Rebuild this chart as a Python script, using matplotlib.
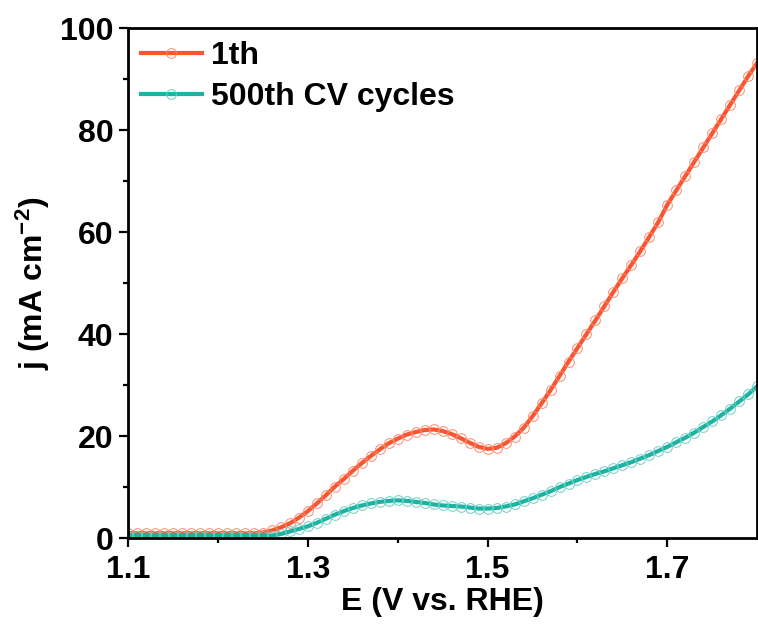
import matplotlib.pyplot as plt
import numpy as np

plt.rcParams['font.family'] = ['Liberation Sans', 'DejaVu Sans']
plt.rcParams['font.weight'] = 'bold'
plt.rcParams['mathtext.fontset'] = 'custom'
plt.rcParams['mathtext.rm'] = 'Liberation Sans:bold'
plt.rcParams['mathtext.bf'] = 'Liberation Sans:bold'
plt.rcParams['mathtext.default'] = 'bf'

# potential grid (V vs. RHE), 10 mV steps
E = np.round(np.arange(1.10, 1.805, 0.01), 2)

# current density, mA cm-2
j_1st = [1.0, 1.0, 1.0, 1.0, 1.0, 1.0, 1.0, 1.0, 1.0, 1.0,
         1.0, 1.0, 1.0, 1.0, 1.0, 1.1, 1.5, 2.1, 2.9, 4.0,
         5.3, 6.8, 8.4, 10.1, 11.6, 13.2, 14.7, 16.1, 17.4, 18.6,
         19.5, 20.3, 20.8, 21.2, 21.3, 21.0, 20.4, 19.6, 18.7, 17.9,
         17.5, 17.7, 18.6, 19.9, 21.6, 23.9, 26.4, 29.0, 31.8, 34.6,
         37.3, 40.0, 42.7, 45.5, 48.3, 51.0, 53.6, 56.3, 59.1, 62.0,
         65.4, 68.2, 71.0, 73.8, 76.6, 79.4, 82.2, 85.0, 87.8, 90.6,
         93.2]
j_500th = [0.5, 0.5, 0.5, 0.5, 0.5, 0.5, 0.5, 0.5, 0.5, 0.5,
           0.5, 0.5, 0.5, 0.5, 0.5, 0.5, 0.5, 0.8, 1.3, 1.8,
           2.3, 3.0, 3.8, 4.6, 5.3, 5.9, 6.4, 6.8, 7.1, 7.3,
           7.4, 7.3, 7.1, 6.9, 6.6, 6.4, 6.3, 6.2, 6.0, 5.8,
           5.8, 5.9, 6.2, 6.6, 7.2, 7.8, 8.5, 9.2, 10.0, 10.7,
           11.4, 12.0, 12.6, 13.1, 13.7, 14.3, 14.9, 15.6, 16.3, 17.1,
           17.9, 18.8, 19.7, 20.7, 21.8, 22.9, 24.1, 25.4, 26.8, 28.2,
           29.8]

labels = ['1th', '500th CV cycles']
colors = ['#FA5530', '#1DB3A3']
ring_colors = ['#FB8A70', '#6CCFC4']

fig = plt.figure(figsize=(7.58, 6.25), dpi=100)
ax = fig.add_axes([0.169, 0.139, 0.83, 0.816])

for y, lab, c, rc in zip([j_1st, j_500th], labels, colors, ring_colors):
    ax.plot(E, y, '-o', color=c, lw=3, ms=7, mfc='none', mew=0.7,
            mec=rc, label=lab)

ax.set_xlim(1.1, 1.8)
ax.set_ylim(0, 100)
ax.set_xticks([1.1, 1.3, 1.5, 1.7])
ax.set_xticks([1.2, 1.4, 1.6], minor=True)
ax.set_yticks(range(0, 101, 20))
ax.set_yticks(range(10, 100, 20), minor=True)

for s in ax.spines.values():
    s.set_linewidth(2)
ax.tick_params(which='major', direction='out', length=6.5, width=1.6,
               labelsize=23, pad=4)
ax.tick_params(axis='x', which='major', pad=6)
ax.tick_params(which='minor', direction='out', length=3.5, width=1.6)

ax.set_xlabel('E (V vs. RHE)', fontsize=23, fontweight='bold', labelpad=1)
ax.set_ylabel('j (mA cm$^{-2}$)', fontsize=23, fontweight='bold', labelpad=6)

ax.legend(loc='upper left', frameon=False, fontsize=23, handlelength=1.9,
          handletextpad=0.3, labelspacing=0.35, borderaxespad=0.2,
          borderpad=0.2)

fig.savefig('out.png', dpi=100)
